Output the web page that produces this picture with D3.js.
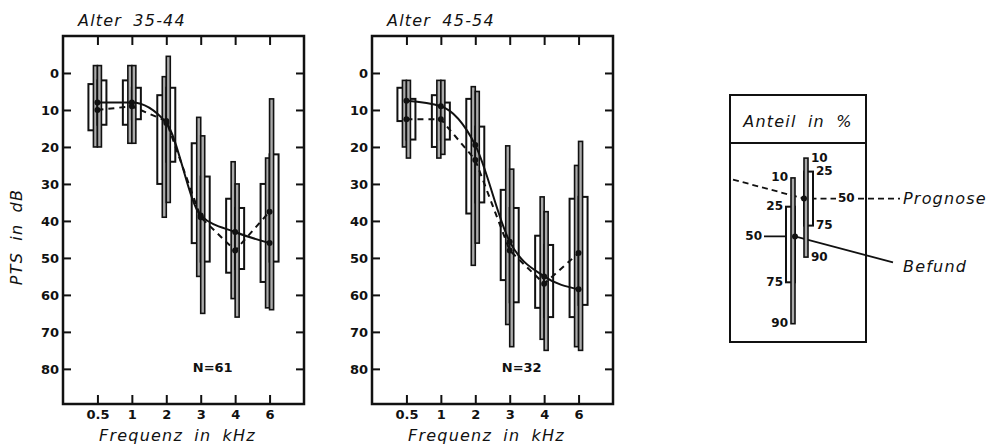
<!DOCTYPE html>
<html>
<head>
<meta charset="utf-8">
<script src="https://cdn.jsdelivr.net/npm/d3@7"></script>
<style>
  body { margin: 0; background: #fff; }
  svg  { display: block; }
  text { font-family: "DejaVu Sans", sans-serif; fill: #111; }
  .tick text { font-size: 13px; font-weight: bold; }
  .ttl  { font-size: 16px; font-style: italic; letter-spacing: 1.2px; word-spacing: 5px; }
  .lbl  { font-size: 12px; font-weight: bold; }
</style>
</head>
<body>
<div id="chart"></div>
<script>

/******************************************************************************/
/*  Data                                                                      */
/******************************************************************************/

// Frequencies (kHz) and PTS ticks (dB)
var freqs   = ['0.5', '1', '2', '3', '4', '6'];
var dbTicks = [0, 10, 20, 30, 40, 50, 60, 70, 80];

// Percentiles per frequency: [10, 25, 50, 75, 90]  (PTS in dB)
var befund3544   = [[-2, 3, 8, 15.5, 20], [-2, 2, 8, 14, 19], [1, 6, 13.5, 30, 39],
                    [12, 19, 38.5, 46, 55], [24, 34, 43, 54, 61], [23, 30, 46, 56.5, 63.5]];
var prognose3544 = [[-2, 2, 10, 14, 20], [-2, 4, 9, 12.5, 19], [-4.5, 4, 13, 24, 35],
                    [17, 28, 39, 51, 65], [30, 36.5, 48, 53, 66], [7, 22, 37.5, 51, 64]];
var befund4554   = [[2, 4, 7.5, 13, 20], [2, 6, 9, 20, 23], [3.7, 7, 19.5, 38, 52],
                    [19.7, 31.6, 45.6, 56, 68], [33.5, 44, 55, 63.5, 72], [25, 34, 58.5, 66, 74]];
var prognose4554 = [[2, 7, 12.5, 18, 23], [2, 8, 12.5, 18, 22], [5, 14.5, 23.5, 35, 46],
                    [26, 36.5, 48, 62, 74], [37.5, 46.5, 57, 66, 75], [18.5, 33.5, 48.7, 62.7, 75]];

// Legend sample glyphs (percentile labels and sample levels, legend units)
var legendPct      = ['10', '25', '50', '75', '90'];
var legendBefund   = [15.5, 31.5, 48, 73.5, 96.5];
var legendPrognose = [4.5, 12, 27, 42, 59.5];


/******************************************************************************/
/*  Setup                                                                     */
/******************************************************************************/

var svg = d3.select('#chart')
  .append('svg')
    .attr('width',  995)
    .attr('height', 447)

var y = d3.scaleLinear().domain([-10, 89.5]).range([36, 404]);

var THIN = 4, BOX = 9;

/* One half-glyph: thin 10-90 bar plus 25-75 box, side -1 = left, +1 = right */
function glyph(g, cx, p, ys, side){
  var xb = side < 0 ? cx - BOX : cx,
      xt = side < 0 ? cx - THIN : cx;
  g.append('rect')
    .attr('x', xb).attr('width', BOX)
    .attr('y', ys(p[1])).attr('height', ys(p[3]) - ys(p[1]))
    .attr('fill', '#fff').attr('stroke', '#111').attr('stroke-width', 2);
  g.append('rect')
    .attr('x', xt).attr('width', THIN)
    .attr('y', ys(p[0])).attr('height', ys(p[4]) - ys(p[0]))
    .attr('fill', '#aaa').attr('stroke', '#111').attr('stroke-width', 1.6);
}

function panel(left, title, n, befund, prognose, yTitle){
  var x = d3.scalePoint().domain(freqs).range([left, left + 241]).padding(1);
  var g = svg.append('g');
  var right = left + 241;

  // Axes with inward ticks
  g.append('g').attr('transform', 'translate(' + left + ',0)')
    .call(d3.axisLeft(y).tickValues(dbTicks).tickSize(-8).tickPadding(4).tickFormat(d3.format('d')));
  g.append('g').attr('transform', 'translate(' + right + ',0)')
    .call(d3.axisRight(y).tickValues(dbTicks).tickSize(-8).tickFormat(''));
  g.append('g').attr('transform', 'translate(0,' + y.range()[1] + ')')
    .call(d3.axisBottom(x).tickSize(-9).tickPadding(6));
  g.append('g').attr('transform', 'translate(0,' + y.range()[0] + ')')
    .call(d3.axisTop(x).tickSize(-9).tickFormat(''));
  g.selectAll('.domain').remove();
  g.selectAll('.tick line').attr('stroke', '#111').attr('stroke-width', 2);
  g.selectAll('.tick text').attr('fill', '#111');

  // Frame
  g.append('rect')
    .attr('x', left).attr('y', y.range()[0])
    .attr('width', 241).attr('height', y.range()[1] - y.range()[0])
    .attr('fill', 'none').attr('stroke', '#111').attr('stroke-width', 2.5);

  // Glyphs
  freqs.forEach(function(f, i){
    glyph(g, x(f), befund[i],   y, -1);
    glyph(g, x(f), prognose[i], y,  1);
  });

  // Median lines: Befund smooth, Prognose straight dashed
  var xi = function(d, i){ return x(freqs[i]); },
      ym = function(d){ return y(d[2]); };

  g.append('path').attr('d', d3.line().x(xi).y(ym)(prognose))
    .attr('fill', 'none').attr('stroke', '#111').attr('stroke-width', 2)
    .attr('stroke-dasharray', '6,5');
  g.append('path').attr('d', d3.line().x(xi).y(ym).curve(d3.curveMonotoneX)(befund))
    .attr('fill', 'none').attr('stroke', '#111').attr('stroke-width', 2);

  g.selectAll('.dot').data(befund.concat(prognose))
    .enter().append('circle')
      .attr('cx', function(d, i){ return x(freqs[i % freqs.length]); })
      .attr('cy', function(d){ return y(d[2]); })
      .attr('r', 3).attr('fill', '#111');

  // Texts
  g.append('text').attr('class', 'ttl')
    .attr('x', left + 15).attr('y', 26).text(title);
  g.append('text').attr('class', 'ttl')
    .attr('x', (left + right) / 2 - 6).attr('y', 441)
    .attr('text-anchor', 'middle').text('Frequenz in kHz');
  g.append('text').attr('class', 'lbl')
    .attr('x', x('3') + 12).attr('y', y(80))
    .attr('text-anchor', 'middle').attr('dominant-baseline', 'middle')
    .style('font-size', '13px').text('N=' + n);
  if (yTitle) {
    g.append('text').attr('class', 'ttl')
      .attr('transform', 'translate(22,' + 237 + ') rotate(-90)')
      .attr('text-anchor', 'middle').text('PTS in dB');
  }
}

panel(63,  'Alter 35-44', 61, befund3544, prognose3544, true);
panel(372, 'Alter 45-54', 32, befund4554, prognose4554, false);


/******************************************************************************/
/*  Legend                                                                    */
/******************************************************************************/

var lg = svg.append('g');
var yl = d3.scaleLinear().domain([0, 100]).range([150, 330]);
var lx0 = 730, lx1 = 866, bx = 795, px = 804;

lg.append('rect')
  .attr('x', lx0).attr('y', 95).attr('width', lx1 - lx0).attr('height', 247)
  .attr('fill', 'none').attr('stroke', '#111').attr('stroke-width', 2);
lg.append('line')
  .attr('x1', lx0).attr('x2', lx1).attr('y1', 143).attr('y2', 143)
  .attr('stroke', '#111').attr('stroke-width', 2);
lg.append('text').attr('class', 'ttl')
  .attr('x', (lx0 + lx1) / 2).attr('y', 127).attr('text-anchor', 'middle')
  .text('Anteil in %');

// Legend lines
var bMed = yl(legendBefund[2]), pMed = yl(legendPrognose[2]);
lg.append('path')
  .attr('d', 'M' + (lx0 + 3) + ',' + (pMed - 19) + 'L' + px + ',' + pMed + 'H836 M858,' + pMed + 'H900')
  .attr('fill', 'none').attr('stroke', '#111').attr('stroke-width', 1.8)
  .attr('stroke-dasharray', '6,4');
lg.append('path')
  .attr('d', 'M764,' + bMed + 'H' + bx + 'L893,' + (bMed + 26))
  .attr('fill', 'none').attr('stroke', '#111').attr('stroke-width', 1.8);

glyph(lg, bx, legendBefund,   yl, -1);
glyph(lg, px, legendPrognose, yl,  1);

lg.append('circle').attr('cx', bx).attr('cy', bMed).attr('r', 3).attr('fill', '#111');
lg.append('circle').attr('cx', px).attr('cy', pMed).attr('r', 3).attr('fill', '#111');

// Percentile labels
var bOff = [-7, -12, -33, -12, -7], pOff = [7, 12, 34, 12, 7];
legendPct.forEach(function(t, i){
  lg.append('text').attr('class', 'lbl')
    .attr('x', bx + bOff[i]).attr('y', yl(legendBefund[i]))
    .attr('text-anchor', 'end').attr('dominant-baseline', 'middle').text(t);
  lg.append('text').attr('class', 'lbl')
    .attr('x', px + pOff[i]).attr('y', yl(legendPrognose[i]))
    .attr('dominant-baseline', 'middle').text(t);
});

lg.append('text').attr('class', 'ttl').style('word-spacing', '0px')
  .attr('x', 903).attr('y', pMed + 5).text('Prognose');
lg.append('text').attr('class', 'ttl').style('word-spacing', '0px')
  .attr('x', 903).attr('y', bMed + 36).text('Befund');

</script>
</body>
</html>
